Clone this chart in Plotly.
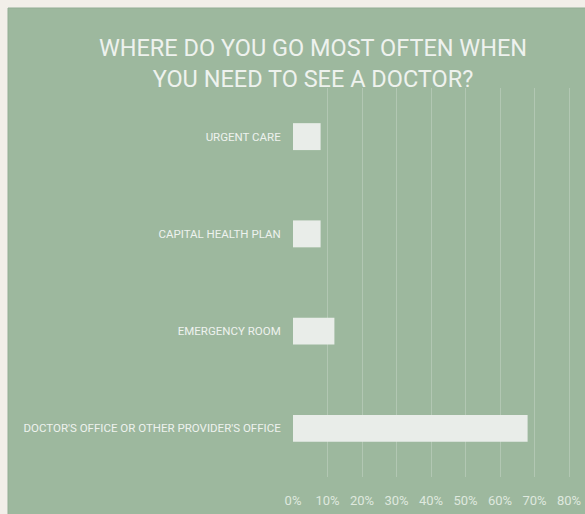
import plotly.graph_objects as go

categories = ["URGENT CARE", "CAPITAL HEALTH PLAN", "EMERGENCY ROOM",
              "DOCTOR'S OFFICE OR OTHER PROVIDER'S OFFICE"]
values = [8, 8, 12, 68]
tick_vals = [0, 10, 20, 30, 40, 50, 60, 70, 80]
tick_text = ["0%", "10%", "20%", "30%", "40%", "50%", "60%", "70%", "80%"]
title_text = "WHERE DO YOU GO MOST OFTEN WHEN<br>YOU NEED TO SEE A DOCTOR?"

W, H = 585, 514
ML, MR, MT, MB = 293, 0, 88, 37
PW, PH = W - ML - MR, H - MT - MB

GREEN = "#9db89e"
OFFWHITE = "#f2efe9"
BAR = "#e9ede9"
TEXT = "#eef2ee"

fig = go.Figure(go.Bar(
    x=values, y=categories, orientation="h",
    marker=dict(color=BAR, line=dict(width=0)),
    width=0.277,
    hoverinfo="x+y",
))

# green panel inset from the top/left by 8px
fig.add_shape(type="rect", xref="paper", yref="paper", layer="below",
              x0=(8 - ML) / PW, x1=(W - ML) / PW + 0.05,
              y0=-(MB + 5) / PH, y1=(PH + MT - 8) / PH,
              fillcolor=GREEN, line=dict(color="#93ad94", width=1))

fig.update_layout(
    width=W, height=H,
    margin=dict(l=ML, r=MR, t=MT, b=MB, pad=0),
    paper_bgcolor=OFFWHITE,
    plot_bgcolor="rgba(0,0,0,0)",
    showlegend=False,
    title=dict(text=title_text, x=313 / W, xanchor="center",
               y=1 - 56 / H, yanchor="top",
               font=dict(family="Roboto", size=23.5, color=TEXT)),
    xaxis=dict(range=[0, PW / 3.45], tickvals=tick_vals, ticktext=tick_text,
               showgrid=True, gridcolor="rgba(255,255,255,0.22)", gridwidth=1,
               zeroline=False, showline=False,
               ticks="outside", ticklen=11, tickcolor="rgba(0,0,0,0)",
               tickfont=dict(family="Roboto", size=13, color="#dfe8de")),
    yaxis=dict(categoryorder="array", categoryarray=categories,
               autorange="reversed", showgrid=False, zeroline=False, showline=False,
               ticks="outside", ticklen=9, tickcolor="rgba(0,0,0,0)",
               tickfont=dict(family="Roboto", size=11.5, color=TEXT)),
)

fig.write_html("out.html")
